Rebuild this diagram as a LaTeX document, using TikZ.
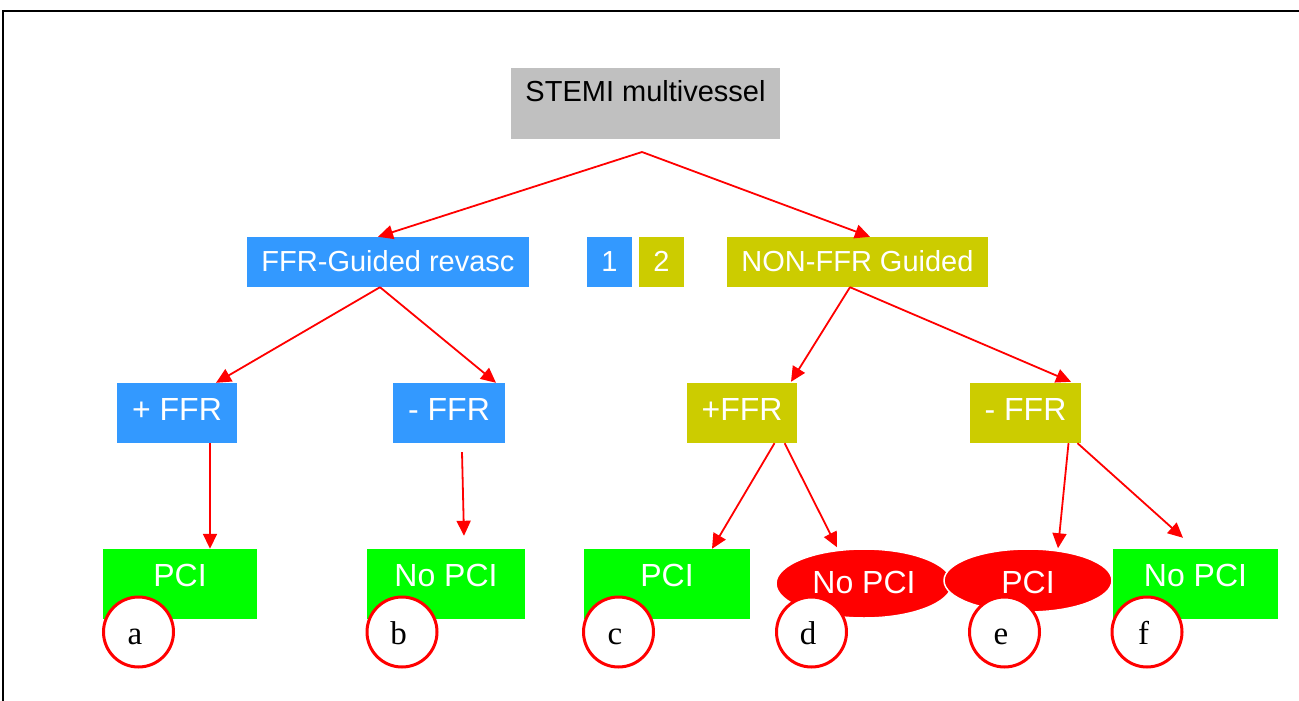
\documentclass[tikz,border=0pt]{standalone}
\usepackage{fontspec}
\setmainfont{Liberation Sans}
\newfontfamily\lettfont{Liberation Serif}
\usetikzlibrary{arrows.meta,shapes.geometric}
\definecolor{cgray}{RGB}{192,192,192}
\definecolor{cblue}{RGB}{51,153,255}
\definecolor{colive}{RGB}{204,204,0}
\definecolor{cgreen}{RGB}{0,255,0}
\definecolor{cred}{RGB}{255,0,0}
\newcommand{\lt}[1]{\kern-7pt #1}
\begin{document}
\begin{tikzpicture}[x=1pt,y=-1pt,
  box/.style={rectangle,inner sep=0pt,text=white},
  lvone/.style={box,minimum height=50pt,font=\fontsize{29}{34}\selectfont,text height=20.8pt,text depth=2.8pt},
  lvtwo/.style={box,minimum height=60pt,font=\fontsize{32}{38}\selectfont,text height=22.9pt,text depth=8.9pt},
  leaf/.style={box,fill=cgreen,minimum height=70pt,font=\fontsize{32}{38}\selectfont,text height=22.9pt,text depth=18.9pt},
  redell/.style={ellipse,fill=cred,draw=white,line width=1.5pt,inner sep=0pt,text=white,font=\fontsize{32}{38}\selectfont},
  lett/.style={circle,draw=cred,fill=white,line width=3pt,minimum size=70pt,inner sep=0pt,font=\lettfont\fontsize{33}{38}\selectfont,text height=24pt,text depth=0pt},
  arr/.style={draw=cred,line width=1.8pt,-{Triangle[length=15pt,width=14pt]}}]
\useasboundingbox (0,0) rectangle (1299,701);
\fill[white] (0,0) rectangle (1299,701);
\draw[line width=2pt] (1299,11) -- (3,11) -- (3,701);

% level 0
\node[box,fill=cgray,text=black,minimum width=269pt,minimum height=71pt,font=\fontsize{29}{34}\selectfont,text height=20.8pt,text depth=23.8pt] (stemi) at (645.5,103.5) {STEMI multivessel};
\coordinate (apex) at (642,152);

% level 1
\node[lvone,fill=cblue,minimum width=282pt] (ffr) at (388,262) {FFR-Guided revasc};
\node[lvone,fill=cblue,minimum width=45pt] (one) at (609.5,262) {1};
\node[lvone,fill=colive,minimum width=45pt] (two) at (661.5,262) {2};
\node[lvone,fill=colive,minimum width=261pt] (nonffr) at (857.5,262) {NON-FFR Guided};

% level 2
\node[lvtwo,fill=cblue,minimum width=120pt] (pffr) at (177,413) {+ FFR};
\node[lvtwo,fill=cblue,minimum width=112pt] (mffr) at (449,413) {- FFR};
\node[lvtwo,fill=colive,minimum width=110pt] (opffr) at (742,413) {+FFR};
\node[lvtwo,fill=colive,minimum width=111pt] (omffr) at (1025.5,413) {- FFR};

% level 3
\node[leaf,minimum width=154pt] (pcia) at (180,584) {PCI};
\node[leaf,minimum width=158pt] (npcib) at (446,584) {No PCI};
\node[leaf,minimum width=166pt] (pcic) at (667,584) {PCI};
\node[redell,minimum width=176pt,minimum height=69pt,text height=22.9pt,text depth=3.9pt] (npcid) at (864,583.5) {No PCI};
\node[redell,minimum width=168pt,minimum height=63pt,text height=26pt,text depth=0pt] (pcie) at (1028,580.5) {PCI};
\node[leaf,minimum width=165pt] (npcif) at (1195.5,584) {No PCI};

% letters
\node[lett] (la) at (138.5,632) {\lt{a}};
\node[lett] (lb) at (402,632) {\lt{b}};
\node[lett] (lc) at (618.5,632) {\lt{c}};
\node[lett] (ld) at (811.5,632) {\lt{d}};
\node[lett] (le) at (1004.5,632) {\lt{e}};
\node[lett] (lf) at (1147,632) {\lt{f}};

% connectors
\draw[arr] (apex) -- ([xshift=-10pt]ffr.north);
\draw[arr] (apex) -- ([xshift=12.5pt]nonffr.north);
\draw[arr] ([xshift=-8pt]ffr.south) -- ([xshift=39pt]pffr.north);
\draw[arr] ([xshift=-8pt]ffr.south) -- ([xshift=47pt]mffr.north);
\draw[arr] ([xshift=33pt]pffr.south) -- ([xshift=30pt]pcia.north);
\draw[arr] ([xshift=13pt,yshift=-9pt]mffr.south) -- ([xshift=18pt,yshift=13pt]npcib.north);
\draw[arr] ([xshift=-7.5pt]nonffr.south) -- ([xshift=49pt,yshift=1pt]opffr.north);
\draw[arr] ([xshift=-7.5pt]nonffr.south) -- ([xshift=45.5pt,yshift=1pt]omffr.north);
\draw[arr] ([xshift=32.5pt]opffr.south) -- ([xshift=45pt]pcic.north);
\draw[arr] ([xshift=42.6pt]opffr.south) -- ([xshift=-27pt,yshift=1pt]npcid.north);
\draw[arr] ([xshift=43pt]omffr.south) -- ([xshift=30pt]pcie.north);
\draw[arr] ([xshift=52pt]omffr.south) -- ([xshift=-12.5pt,yshift=11pt]npcif.north);
\end{tikzpicture}
\end{document}
